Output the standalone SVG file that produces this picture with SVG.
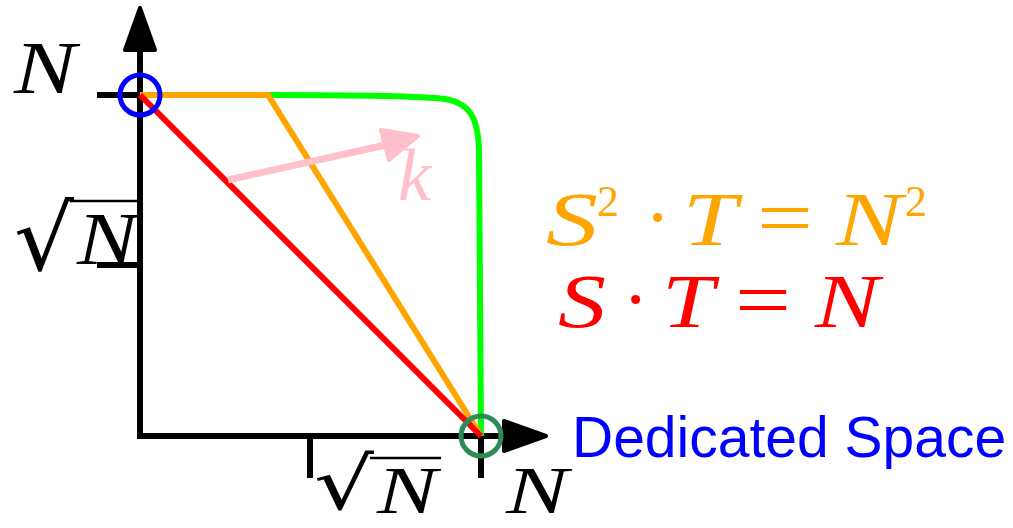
<svg xmlns="http://www.w3.org/2000/svg" width="1013" height="528" viewBox="0 0 1013 528">
<style>
.ax{stroke:#000;stroke-width:6;fill:none}
.m{font-family:"Liberation Serif",serif;font-style:italic}
.r{font-family:"Liberation Serif",serif}
.rad{font-family:"DejaVu Serif",serif}
</style>
<rect width="1013" height="528" fill="#fff"/>
<g id="axes">
<line class="ax" x1="140" y1="436" x2="140" y2="45"/>
<path d="M140,8 L155,50 L125,50 Z" fill="#000" stroke="#000" stroke-width="4" stroke-linejoin="round"/>
<line class="ax" x1="137" y1="436" x2="510" y2="436"/>
<path d="M546,436 L504,421 L504,451 Z" fill="#000" stroke="#000" stroke-width="4" stroke-linejoin="round"/>
<line class="ax" x1="97" y1="95" x2="140" y2="95"/>
<line class="ax" x1="97" y1="265" x2="140" y2="265"/>
<line class="ax" x1="310" y1="436" x2="310" y2="478"/>
<line class="ax" x1="481" y1="436" x2="481" y2="478"/>
</g>
<g id="connectors">
<path d="M268,95 C360,95 420,96 445,99 C470,103 478,118 479,150 L481,436" fill="none" stroke="#00ff00" stroke-width="6"/>
<polyline points="140,95 268,95 481,436" fill="none" stroke="#ffa500" stroke-width="6"/>
<line x1="140" y1="95" x2="481" y2="436" stroke="#ff0000" stroke-width="6"/>
<line x1="228" y1="180" x2="390" y2="144" stroke="#ffc0cb" stroke-width="7"/>
<path d="M418,136 L381,130 L389,160 Z" fill="#ffc0cb" stroke="#ffc0cb" stroke-width="4" stroke-linejoin="round"/>
</g>
<g id="circle-top">
<circle cx="140" cy="95" r="20" fill="none" stroke="#0000ff" stroke-width="5"/>
</g>
<g id="circle-bottom">
<circle cx="481" cy="436" r="20" fill="none" stroke="#2e8b57" stroke-width="5"/>
</g>
<g id="labels">
<text class="m" x="14" y="93" font-size="74" textLength="62" lengthAdjust="spacingAndGlyphs">N</text>
<text class="rad" x="14" y="270" font-size="90" textLength="60" lengthAdjust="spacingAndGlyphs">√</text>
<line x1="70" y1="201" x2="137" y2="201" stroke="#000" stroke-width="2.5"/>
<text class="m" x="77" y="264" font-size="74" textLength="60" lengthAdjust="spacingAndGlyphs">N</text>
<text class="rad" x="314" y="509" font-size="72" textLength="60" lengthAdjust="spacingAndGlyphs">√</text>
<line x1="370" y1="458" x2="441" y2="458" stroke="#000" stroke-width="2.5"/>
<text class="m" x="377" y="513" font-size="68" textLength="60" lengthAdjust="spacingAndGlyphs">N</text>
<text class="m" x="506" y="513" font-size="68" textLength="62" lengthAdjust="spacingAndGlyphs">N</text>
<text class="m" x="398" y="200" font-size="74" fill="#ffc0cb">k</text>
<text x="572" y="457" font-family="Liberation Sans,sans-serif" font-size="57" fill="#0000ff">Dedicated Space</text>
</g>
<g id="eq-orange" fill="#ffa500">
<text class="m" x="546" y="245" font-size="76" textLength="52" lengthAdjust="spacingAndGlyphs">S</text>
<text class="r" x="597" y="216" font-size="44">2</text>
<text class="r" x="645" y="243" font-size="76">·</text>
<text class="m" x="683" y="245" font-size="76" textLength="54" lengthAdjust="spacingAndGlyphs">T</text>
<text class="r" x="757" y="245" font-size="80" textLength="56" lengthAdjust="spacingAndGlyphs">=</text>
<text class="m" x="836" y="245" font-size="76" textLength="66" lengthAdjust="spacingAndGlyphs">N</text>
<text class="r" x="905" y="216" font-size="44">2</text>
</g>
<g id="eq-red" fill="#ff0000">
<text class="m" x="558" y="327" font-size="76" textLength="48" lengthAdjust="spacingAndGlyphs">S</text>
<text class="r" x="623" y="325" font-size="76">·</text>
<text class="m" x="662" y="327" font-size="76" textLength="52" lengthAdjust="spacingAndGlyphs">T</text>
<text class="r" x="735" y="327" font-size="80" textLength="56" lengthAdjust="spacingAndGlyphs">=</text>
<text class="m" x="815" y="327" font-size="76" textLength="64" lengthAdjust="spacingAndGlyphs">N</text>
</g>
</svg>
